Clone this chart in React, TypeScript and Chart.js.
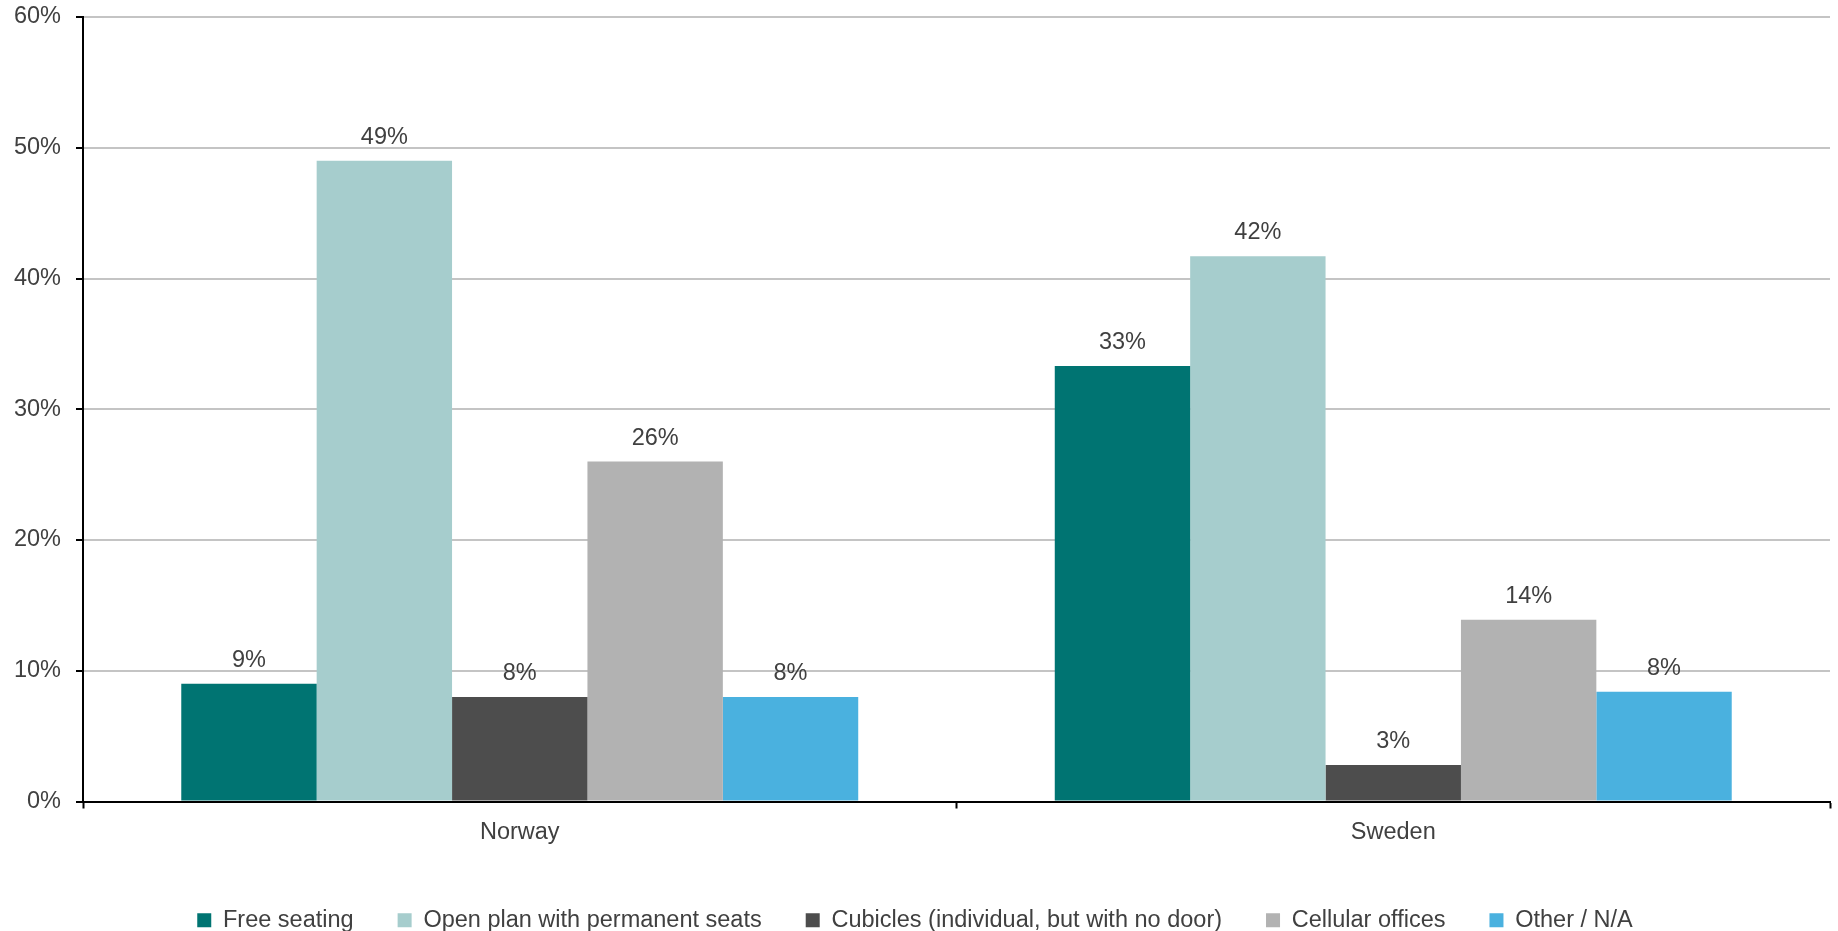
import { useEffect, useRef } from 'react';
import { Chart, registerables } from 'chart.js';

Chart.register(...registerables);

const FONT = "'Liberation Sans', Arial, sans-serif";
const TEXT_COLOR = '#404040';

const categories = ['Norway', 'Sweden'];
const seriesNames = [
  'Free seating',
  'Open plan with permanent seats',
  'Cubicles (individual, but with no door)',
  'Cellular offices',
  'Other / N/A',
];
const freeSeating = [9, 33.3];
const openPlan = [49, 41.7];
const cubicles = [8, 2.8];
const cellularOffices = [26, 13.9];
const otherNA = [8, 8.4];
const seriesValues = [freeSeating, openPlan, cubicles, cellularOffices, otherNA];
const seriesColors = ['#007472', '#a6cdcd', '#4d4d4d', '#b2b2b2', '#4ab1df'];
const yMin = 0;
const yMax = 60;
const yStep = 10;

const valueLabels = {
  id: 'valueLabels',
  afterDatasetsDraw(chart: any) {
    const ctx = chart.ctx;
    ctx.save();
    ctx.font = `23.5px ${FONT}`;
    ctx.fillStyle = TEXT_COLOR;
    ctx.textAlign = 'center';
    ctx.textBaseline = 'alphabetic';
    chart.data.datasets.forEach((ds: any, i: number) => {
      const meta = chart.getDatasetMeta(i);
      meta.data.forEach((el: any, j: number) => {
        const v = ds.data[j];
        ctx.fillText(Math.round(v) + '%', el.x, el.y - 17);
      });
    });
    ctx.restore();
  },
};

export default function App() {
  const ref = useRef<HTMLCanvasElement>(null);

  useEffect(() => {
    document.body.style.margin = '0';
    document.body.style.overflow = 'hidden';
    const canvas = ref.current;
    if (!canvas) return;
    const chart = new Chart(canvas, {
      type: 'bar',
      data: {
        labels: categories,
        datasets: seriesNames.map((name, i) => ({
          label: name,
          data: seriesValues[i],
          backgroundColor: seriesColors[i],
          borderWidth: 0,
          categoryPercentage: 0.775,
          barPercentage: 1,
        })),
      },
      options: {
        responsive: false,
        maintainAspectRatio: false,
        devicePixelRatio: 1,
        animation: false,
        layout: { padding: { top: 17, right: 8, bottom: 0, left: 0 } },
        plugins: {
          tooltip: { enabled: false },
          legend: {
            position: 'bottom',
            labels: {
              boxWidth: 14,
              boxHeight: 14,
              padding: 44,
              color: TEXT_COLOR,
              font: { size: 23.5, family: FONT },
            },
          },
        },
        scales: {
          x: {
            afterFit: (s: any) => {
              s.height = 63;
              s.paddingLeft = 0;
              s.paddingRight = 0;
            },
            grid: {
              display: true,
              drawOnChartArea: false,
              drawTicks: true,
              tickLength: 7,
              tickColor: '#000',
              tickWidth: 2,
              offset: true,
            },
            border: { display: true, color: '#000', width: 2 },
            ticks: {
              padding: 9.5,
              color: TEXT_COLOR,
              font: { size: 23.5, family: FONT },
            },
          },
          y: {
            min: yMin,
            max: yMax,
            afterFit: (s: any) => {
              s.width = 83;
              s.paddingTop = 0;
              s.paddingBottom = 0;
            },
            grid: {
              color: '#c4c4c4',
              lineWidth: 2,
              tickLength: 7,
              tickColor: '#000',
              tickWidth: 2,
            },
            border: { display: true, color: '#000', width: 2 },
            ticks: {
              stepSize: yStep,
              padding: 15,
              color: TEXT_COLOR,
              font: { size: 23.5, family: FONT },
              callback: (v: any) => v + '%',
            },
          },
        },
      },
      plugins: [valueLabels],
    });
    return () => chart.destroy();
  }, []);

  return (
    <div style={{ width: 1838, height: 931, overflow: 'hidden' }}>
      <canvas ref={ref} width={1838} height={942} style={{ display: 'block', width: 1838, height: 942 }} />
    </div>
  );
}
